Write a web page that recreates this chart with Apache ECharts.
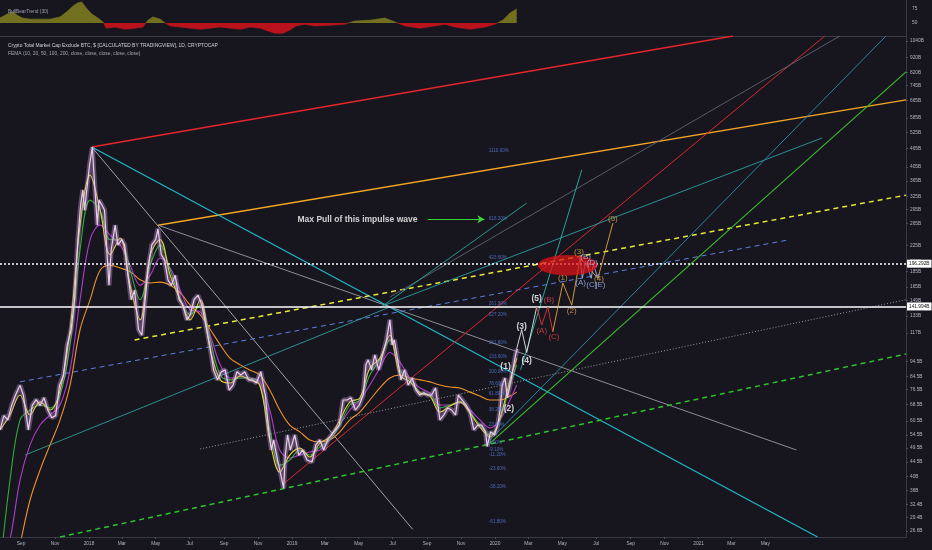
<!DOCTYPE html>
<html>
<head>
<meta charset="utf-8">
<script src="https://cdn.jsdelivr.net/npm/echarts@6.0.0/dist/echarts.min.js"></script>
<style>
html,body{margin:0;padding:0;background:#17161f;}
#c{width:932px;height:550px;}
</style>
</head>
<body>
<div id="c"></div>
<script>
// ---------------- DATA ----------------
const price = [
['2017-07-25',56.6],['2017-08-01',63],['2017-08-08',61],['2017-08-15',68],['2017-08-22',73.5],['2017-08-30',79],
['2017-09-05',73.5],['2017-09-14',56.6],['2017-09-21',68],['2017-09-28',71],['2017-10-05',68],['2017-10-12',72],
['2017-10-19',65.7],['2017-10-26',62],['2017-11-02',63],['2017-11-09',79],['2017-11-16',85],['2017-11-23',107],
['2017-11-30',120],['2017-12-06',150],['2017-12-12',235],['2017-12-17',305],['2017-12-21',341],['2017-12-24',293],
['2017-12-28',341],['2018-01-02',411],['2018-01-07',470],['2018-01-10',381],['2018-01-16',262],['2018-01-19',316],
['2018-01-24',305],['2018-01-29',293],['2018-02-02',218],['2018-02-06',167],['2018-02-10',218],['2018-02-17',262],
['2018-02-22',226],['2018-03-01',235],['2018-03-06',226],['2018-03-12',180],['2018-03-18',150],['2018-03-24',161],
['2018-03-31',120],['2018-04-06',115],['2018-04-12',150],['2018-04-18',194],['2018-04-24',226],['2018-05-01',235],
['2018-05-05',255],['2018-05-11',210],['2018-05-17',202],['2018-05-23',174],['2018-05-29',167],['2018-06-05',180],
['2018-06-12',150],['2018-06-19',144],['2018-06-26',129],['2018-07-02',134],['2018-07-09',150],['2018-07-16',155],
['2018-07-23',144],['2018-07-30',124],['2018-08-06',107],['2018-08-13',88.7],['2018-08-20',82.3],['2018-08-27',87.5],
['2018-09-03',88.7],['2018-09-10',76.3],['2018-09-17',79.2],['2018-09-24',87.5],['2018-10-01',85.4],['2018-10-08',87.5],
['2018-10-15',82.3],['2018-10-22',82.3],['2018-10-29',80.4],['2018-11-06',87.5],['2018-11-14',73.5],['2018-11-20',56.6],
['2018-11-25',48.7],['2018-11-29',52.5],['2018-12-06',45.2],['2018-12-14',38.9],['2018-12-17',36.6],['2018-12-20',46.9],
['2018-12-24',54.5],['2018-12-29',48.7],['2019-01-06',54.5],['2019-01-13',46.9],['2019-01-20',48.7],['2019-01-28',45.2],
['2019-02-06',44.5],['2019-02-13',50.6],['2019-02-20',52.5],['2019-02-27',48.7],['2019-03-06',52.5],['2019-03-13',54.5],
['2019-03-20',56.6],['2019-03-27',58.7],['2019-04-03',70.8],['2019-04-10',70.8],['2019-04-17',72],['2019-04-25',65.7],
['2019-05-02',68.2],['2019-05-09',73.5],['2019-05-14',92.1],['2019-05-18',95.6],['2019-05-24',88.7],['2019-05-30',99.2],
['2019-06-06',88.7],['2019-06-13',99.2],['2019-06-20',111],['2019-06-26',129],['2019-06-30',107],['2019-07-04',111],
['2019-07-10',95.6],['2019-07-16',82.3],['2019-07-22',88.7],['2019-07-29',79.2],['2019-08-05',83.5],['2019-08-12',76.3],
['2019-08-19',73.5],['2019-08-26',74.7],['2019-09-02',73.5],['2019-09-09',73.5],['2019-09-16',77.5],['2019-09-24',61],
['2019-10-01',63.3],['2019-10-08',66.7],['2019-10-15',65.7],['2019-10-22',63.3],['2019-10-27',73.5],['2019-11-03',70.8],
['2019-11-10',68.2],['2019-11-17',64.7],['2019-11-24',56.6],['2019-12-01',58.7],['2019-12-08',58.7],['2019-12-15',55.8],
['2019-12-18',50],['2019-12-24',55.8],['2019-12-31',54.5],['2020-01-06',58.7],['2020-01-10',65.7],['2020-01-14',79.2],
['2020-01-19',83.5],['2020-01-23',72],['2020-01-28',79.2],['2020-02-02',88.7],['2020-02-07',99.2],['2020-02-10',103.85]
];

const emaDates = ['2017-07-25','2017-08-12','2017-08-30','2017-09-17','2017-10-05','2017-10-23','2017-11-10','2017-11-28','2017-12-16','2018-01-03',
'2018-01-21','2018-02-08','2018-02-26','2018-03-16','2018-04-03','2018-04-21','2018-05-09','2018-05-27','2018-06-14','2018-07-02',
'2018-07-20','2018-08-07','2018-08-25','2018-09-12','2018-09-30','2018-10-17','2018-11-04','2018-11-22','2018-12-10','2018-12-28',
'2019-01-15','2019-02-02','2019-02-20','2019-03-10','2019-03-28','2019-04-15','2019-05-03','2019-05-21','2019-06-08','2019-06-26',
'2019-07-14','2019-08-01','2019-08-19','2019-09-06','2019-09-24','2019-10-12','2019-10-30','2019-11-17','2019-12-05','2019-12-23',
'2020-01-10','2020-01-28','2020-02-09'];
const emaYellow = [56.6,63.3,73.5,63.3,69.8,65.7,76.3,120,262,381,293,210,238,167,129,210,235,180,150,129,150,103,82.3,80.4,84.8,82.3,79.2,52.5,41.3,46.9,49.4,46.2,51.3,53.7,61,69.8,71.9,89.9,96.7,115,85.4,81.1,74.6,72.9,64.7,67.7,69.8,64.2,57.8,53.7,61.9,82.3,96.7];
const emaGreen = [20,38.9,61,65.7,68.2,66.7,73.5,107,218,316,293,235,235,187,150,194,226,187,151,134,144,111,85.4,82.3,83.5,83.5,79.2,56.6,43.5,45.2,48.7,46.9,49.8,52.5,58.7,68.2,70.8,85.4,95.6,111,88.7,82.3,75.1,73.5,66.7,68.2,69.8,64.7,58.7,54.5,61,79.2,92.1];
const emaPurple = [20,25,38.9,50.6,58.7,63.3,68.2,88.7,150,235,262,243,226,194,167,180,205,190,161,139,137,115,92.1,83.5,83.5,83.5,81.1,65.7,48.7,45.9,46.9,48,48.7,52.5,58.7,65.7,70.8,79.2,89.9,101,94,83.5,77.5,74.6,68.2,68.2,69.3,65.7,61,57.4,61,70.8,79.2];
const emaOrange = [14,17,24,33.5,41.9,50.6,61,79.2,120,150,187,194,190,185,174,170,171,167,158,144,134,120,107,96.7,92.1,88.7,85.4,76.3,65.7,58.7,55.8,52.5,51.7,52.5,55.8,61,64.7,70.8,77.5,83.5,85.4,83.5,82.3,81.1,79.2,78,77.5,75.1,72.9,70.8,70.8,72.9,75.1];

const bullBear = [
['2017-07-25',59],['2017-08-07',66],['2017-08-17',70],['2017-08-25',64],['2017-09-03',59],['2017-09-17',57],['2017-10-05',57],
['2017-10-23',57],['2017-11-10',61],['2017-11-22',70],['2017-12-03',80],['2017-12-12',86],['2017-12-19',87.5],['2017-12-27',77],
['2018-01-06',66],['2018-01-17',59],['2018-01-26',52],['2018-02-01',41],['2018-02-17',43],['2018-03-07',39],['2018-03-25',41],
['2018-04-08',43],['2018-04-17',55],['2018-04-26',61],['2018-05-09',57],['2018-05-18',50],['2018-05-27',45],['2018-06-14',43],
['2018-07-02',41],['2018-07-20',39],['2018-08-07',41],['2018-08-25',43],['2018-09-12',41],['2018-09-30',39],['2018-10-18',43],
['2018-11-05',41],['2018-11-19',36],['2018-12-01',32],['2018-12-16',32],['2018-12-28',37.5],['2019-01-08',45],['2019-01-24',48],
['2019-02-11',45],['2019-03-10',46],['2019-04-06',48],['2019-04-24',53.6],['2019-05-21',55],['2019-06-17',59],['2019-07-05',52],
['2019-07-23',45],['2019-08-19',41],['2019-09-15',45],['2019-10-03',48],['2019-10-21',43],['2019-11-17',39],['2019-12-14',43],
['2020-01-01',48],['2020-01-15',55],['2020-01-28',68],['2020-02-09',75]
];

const yTickVals = [1040,920,820,745,665,585,525,465,405,365,325,295,265,225,200,185,165,149,133,117,94.5,84.5,76.5,68.5,60.5,54.5,49.5,44.5,40,36,32.4,29.4,26.6];
const xTickDates = ['2017-09-01','2017-11-01','2018-01-01','2018-03-01','2018-05-01','2018-07-01','2018-09-01','2018-11-01','2019-01-01','2019-03-01','2019-05-01','2019-07-01','2019-09-01','2019-11-01','2020-01-01','2020-03-01','2020-05-01','2020-07-01','2020-09-01','2020-11-01','2021-01-01','2021-03-01','2021-05-01'];
const xTickLabels = ['Sep','Nov','2018','Mar','May','Jul','Sep','Nov','2019','Mar','May','Jul','Sep','Nov','2020','Mar','May','Jul','Sep','Nov','2021','Mar','May'];

const trendLines = [
['peakRed','2018-01-06',470,'2021-03-04',1079],
['mayOrange','2018-05-05',262,'2022-01-09',669],
['peakWhite','2018-01-06',470,'2019-08-06',26.9],
['peakTeal','2018-01-06',470,'2021-08-03',25.4],
['mayGray','2018-05-05',262,'2021-06-26',48.7],
['yellowDash','2018-03-24',111,'2022-01-09',328],
['blueDash','2017-08-30',81.1,'2021-06-14',235],
['greenDash','2017-11-10',25.4,'2022-01-09',99.9],
['greenSolid','2019-12-23',51.3,'2022-01-09',825],
['redThin','2018-12-19',38.1,'2021-08-16',1079],
['grayFan','2019-06-26',153,'2021-09-12',1079],
['tealFan','2019-06-17',144,'2021-08-11',503],
['tealShort','2019-06-08',141,'2020-02-27',309],
['tealLow','2019-12-23',52.5,'2021-12-04',1079],
['dottedGray','2018-07-20',49.1,'2022-01-09',150],
['tealSteep','2020-02-16',88.7,'2020-06-05',396],
['tealLeft','2017-09-08',46.9,'2019-06-26',142]
];

const waveWhitePath = [['2020-02-09',103.85],['2020-02-18',120],['2020-02-27',101],['2020-03-16',142]];
const waveRedPath = [['2020-03-16',142],['2020-03-25',124],['2020-04-05',142],['2020-04-14',118]];
const waveOrangePath = [['2020-04-14',118],['2020-05-02',170],['2020-05-18',144],['2020-06-02',205],['2020-07-04',176],['2020-07-31',266]];
const waveLavPath = [['2020-06-02',205],['2020-06-06',176],['2020-06-12',200],['2020-06-22',176],['2020-06-26',195],['2020-07-04',176]];

const waveWhiteLabels = [['(1)','2020-01-20',90.7],['(2)','2020-01-26',66.2],['(3)','2020-02-18',123],['(4)','2020-02-27',94.9],['(5)','2020-03-16',151]];
const waveRedLabels = [['(A)','2020-03-25',119],['(B)','2020-04-07',150],['(C)','2020-04-16',114]];
const waveOrangeLabels = [['(1)','2020-05-02',177],['(2)','2020-05-18',138],['(3)','2020-05-31',215],['(4)','2020-07-06',175],['(5)','2020-07-31',274]];
const waveLavLabels = [['(A)','2020-06-03',170],['(B)','2020-06-12',206],['(C)','2020-06-23',168],['(D)','2020-06-24',197],['(E)','2020-07-08',168]];

const fibDate = '2019-12-20';
const fibLevels = [['1110.00%',456],['618.20%',274],['423.60%',206],['261.80%',146],['227.20%',134],['161.80%',109],['133.60%',97.7],
['100.00%',87.2],['78.60%',79.8],['61.80%',74],['38.20%',65.7],['23.60%',58.8],['0.00%',51.3],['-9.10%',48.7],['-11.20%',46.9],
['-23.60%',42.2],['-38.20%',36.9],['-61.80%',28.4]];

const noteText = ['Max Pull of this impulse wave','2019-01-10',274];
const noteArrow = [['2019-09-02',274],['2019-12-13',274]];
const ellipseAt = ['2020-05-11',194];

const levelDotted = 196.292;
const levelSolid = 141.994;
const lastPrice = 103.85;
const countdown = ['03:40:29', 97.7];

const xRange = ['2017-07-25','2022-01-09'];
const yRange = [25.4, 1079];

// ---------------- CHART ----------------
const T = d => Date.parse(d + 'T00:00:00Z');
const L = v => Math.log(v);
const FONT = 'Liberation Sans';

const lineStyles = {
 peakRed:{color:'#e3262c',width:1.6},
 mayOrange:{color:'#f5a623',width:1.5},
 peakWhite:{color:'#c4c4ca',width:0.8},
 peakTeal:{color:'#1fb8c8',width:1.2},
 mayGray:{color:'#9a9aa2',width:0.9},
 yellowDash:{color:'#e8e83a',width:1.5,type:[5,4]},
 blueDash:{color:'#5b7fe0',width:1,type:[5,4]},
 greenDash:{color:'#2fc22f',width:1.5,type:[5,4]},
 greenSolid:{color:'#3bbf2c',width:1.1},
 redThin:{color:'#d9282e',width:1},
 grayFan:{color:'#5f6470',width:0.9},
 tealFan:{color:'#2a9fa0',width:0.9},
 tealShort:{color:'#26a69a',width:0.9},
 tealLow:{color:'#2f8fb0',width:0.9},
 dottedGray:{color:'#a8a8b0',width:0.9,type:[1,2]},
 tealSteep:{color:'#26b5a5',width:0.9},
 tealLeft:{color:'#2a9f9a',width:0.9}
};

const pt = (d,v) => [T(d), L(v)];
const series = [];

series.push({
  type:'line', xAxisIndex:0, yAxisIndex:0, symbol:'none', silent:true,
  data: bullBear.map(p => [T(p[0]), p[1]]),
  lineStyle:{width:0.6},
  areaStyle:{origin:50, opacity:0.95}
});

function mainLine(data, style, extra){
  return Object.assign({
    type:'line', xAxisIndex:1, yAxisIndex:1, symbol:'none', silent:true, clip:true,
    data, lineStyle:style, z:3
  }, extra||{});
}

trendLines.forEach(t => {
  series.push(mainLine([pt(t[1],t[2]), pt(t[3],t[4])], lineStyles[t[0]], {z:2}));
});

const emaSet = [[emaOrange,'#f0922a'],[emaPurple,'#b03cc8'],[emaGreen,'#2fae3a'],[emaYellow,'#e8d830']];
emaSet.forEach(e => {
  series.push(mainLine(emaDates.map((d,i)=>pt(d,e[0][i])), {color:e[1], width:1.1}, {smooth:0.35, z:4}));
});

const priceData = price.map(p => pt(p[0], p[1]));
series.push(mainLine(priceData, {color:'#c596d6', width:5, opacity:0.4}, {z:5}));
series.push(mainLine(priceData, {color:'#e9cfe9', width:1.2}, {
  z:6,
  markLine:{
    silent:true, symbol:'none', animation:false,
    data:[
      {yAxis:L(levelDotted), lineStyle:{color:'#ffffff',width:1.6,type:[2,2]},
       label:{formatter:levelDotted+'B', backgroundColor:'#ffffff', color:'#111', fontSize:4.8, fontFamily:FONT, padding:[2,2,1,2], distance:1}},
      {yAxis:L(levelSolid), lineStyle:{color:'#ffffff',width:1.6,type:'solid'},
       label:{formatter:levelSolid+'B', backgroundColor:'#ffffff', color:'#111', fontSize:4.8, fontFamily:FONT, padding:[2,2,1,2], distance:1}},
      {yAxis:L(lastPrice), lineStyle:{opacity:0},
       label:{formatter:lastPrice+'B', backgroundColor:'#00bcd4', color:'#0b2a33', fontSize:4.8, fontFamily:FONT, padding:[2,3,1,3], distance:1}},
      {yAxis:L(countdown[1]), lineStyle:{opacity:0},
       label:{formatter:countdown[0], backgroundColor:'#00bcd4', color:'#0b2a33', fontSize:4.8, fontFamily:FONT, padding:[2,3,1,3], distance:1}}
    ]
  }
}));

series.push(mainLine(waveWhitePath.map(p=>pt(p[0],p[1])), {color:'#e8e8e8',width:0.9}, {z:7}));
series.push(mainLine(waveRedPath.map(p=>pt(p[0],p[1])), {color:'#e0343a',width:0.9}, {z:7}));
series.push(mainLine(waveOrangePath.map(p=>pt(p[0],p[1])), {color:'#e9a23b',width:0.9}, {z:7}));
series.push(mainLine(waveLavPath.map(p=>pt(p[0],p[1])), {color:'#9fb4ee',width:0.9}, {z:7}));

series.push({
  type:'scatter', xAxisIndex:1, yAxisIndex:1, silent:true, z:8,
  symbol:'circle', symbolSize:[58,20],
  itemStyle:{color:'rgba(226,18,24,0.9)', borderColor:'#c41018', borderWidth:1},
  data:[pt(ellipseAt[0], ellipseAt[1])]
});

function labelSeries(list, color, size, weight, z){
  return {
    type:'scatter', xAxisIndex:1, yAxisIndex:1, silent:true, z:z||9,
    symbolSize:1, itemStyle:{color:'transparent'},
    data: list.map(l => ({value:pt(l[1], l[2]), name:l[0]})),
    label:{show:true, position:'inside', formatter:p=>p.name, color, fontSize:size, fontWeight:weight, fontFamily:FONT}
  };
}
series.push(labelSeries(waveWhiteLabels, '#ffffff', 8.5, 'bold'));
series.push(labelSeries(waveRedLabels, '#e8434a', 8, 'normal'));
series.push(labelSeries(waveOrangeLabels, '#e9a94a', 8, 'normal'));
series.push(labelSeries(waveLavLabels, '#a9bdf2', 8, 'normal'));

series.push({
  type:'scatter', xAxisIndex:1, yAxisIndex:1, silent:true, z:9,
  symbolSize:1, itemStyle:{color:'transparent'},
  data: fibLevels.map(f => ({value:pt(fibDate, f[1]), name:f[0]})),
  label:{show:true, position:'right', distance:0, formatter:p=>p.name, color:'#5d7fe0', fontSize:4.6, fontFamily:FONT}
});

series.push({
  type:'scatter', xAxisIndex:1, yAxisIndex:1, silent:true, z:9,
  symbolSize:1, itemStyle:{color:'transparent'},
  data:[{value:pt(noteText[1], noteText[2]), name:noteText[0]}],
  label:{show:true, position:'right', distance:0, formatter:p=>p.name, color:'#ffffff', fontSize:8.5, fontWeight:'bold', fontFamily:FONT},
  markLine:{
    silent:true, animation:false, symbol:['none','arrow'], symbolSize:[6,7],
    lineStyle:{color:'#39d33a', width:1.2, type:'solid'}, label:{show:false},
    data:[[{coord:pt(noteArrow[0][0],noteArrow[0][1])},{coord:pt(noteArrow[1][0],noteArrow[1][1])}]]
  }
});

const axisText = {color:'#b2b5be', fontSize:4.8, fontFamily:FONT};

const option = {
  backgroundColor:'#17161f',
  animation:false,
  title:[
    {text:'BullBearTrend (30)', left:3, top:4, textStyle:{color:'#9ea1ab', fontSize:4.8, fontWeight:'normal', fontFamily:FONT}},
    {text:'Crypto Total Market Cap Exclude BTC, $ [CALCULATED BY TRADINGVIEW], 1D, CRYPTOCAP', left:3, top:38, textStyle:{color:'#d1d4dc', fontSize:4.9, fontWeight:'normal', fontFamily:FONT}},
    {text:'FEMA (10, 20, 50, 100, 200, close, close, close, close, close)', left:3, top:46, textStyle:{color:'#a3a6af', fontSize:4.9, fontWeight:'normal', fontFamily:FONT}}
  ],
  grid:[
    {left:0, right:26, top:0, height:36},
    {left:0, right:26, top:36, bottom:13}
  ],
  visualMap:[{type:'piecewise', show:false, seriesIndex:0, dimension:1,
    pieces:[{gte:0, lt:50, color:'#c1121c'},{gte:50, lte:100, color:'#76751f'}]}],
  xAxis:[
    {type:'value', gridIndex:0, min:T(xRange[0]), max:T(xRange[1]),
     axisLine:{show:true, lineStyle:{color:'#3a3d48'}}, axisTick:{show:false}, axisLabel:{show:false}, splitLine:{show:false}},
    {type:'value', gridIndex:1, min:T(xRange[0]), max:T(xRange[1]),
     axisLine:{show:true, lineStyle:{color:'#363a45'}},
     axisTick:{show:true, length:2, lineStyle:{color:'#4a4e5a'}, customValues:xTickDates.map(T)},
     axisLabel:Object.assign({margin:4, customValues:xTickDates.map(T),
       formatter:v => { const i = xTickDates.findIndex(d => Math.abs(T(d)-v) < 3600000); return i>=0 ? xTickLabels[i] : ''; }}, axisText),
     splitLine:{show:false}}
  ],
  yAxis:[
    {type:'value', gridIndex:0, position:'right', min:27, max:91,
     axisLine:{show:true, lineStyle:{color:'#363a45'}}, axisTick:{show:false},
     axisLabel:Object.assign({margin:6, customValues:[50,75]}, axisText), splitLine:{show:false}},
    {type:'value', gridIndex:1, position:'right', min:L(yRange[0]), max:L(yRange[1]),
     axisLine:{show:true, lineStyle:{color:'#363a45'}},
     axisTick:{show:true, inside:false, length:2, lineStyle:{color:'#4a4e5a'}, customValues:yTickVals.map(L)},
     axisLabel:Object.assign({margin:4, customValues:yTickVals.map(L),
       formatter:v => { const i = yTickVals.findIndex(t => Math.abs(L(t)-v) < 1e-4); return i>=0 ? yTickVals[i]+'B' : ''; }}, axisText),
     splitLine:{show:false}}
  ],
  series
};

const chart = echarts.init(document.getElementById('c'));
chart.setOption(option);
</script>
</body>
</html>
